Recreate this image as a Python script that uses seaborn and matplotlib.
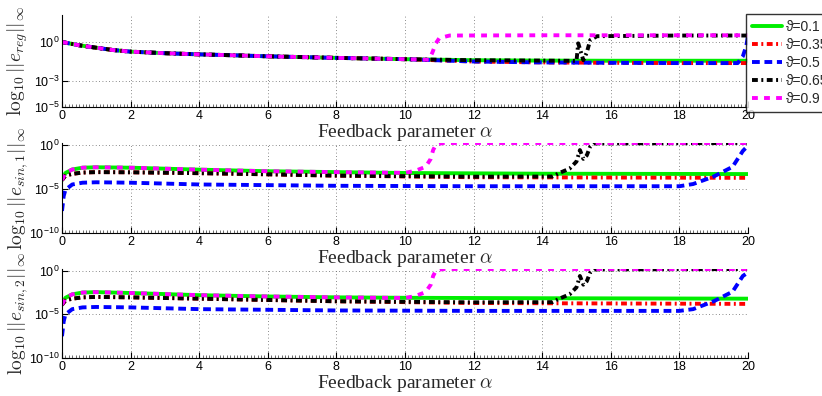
import matplotlib
matplotlib.use("Agg")
import matplotlib.pyplot as plt
from matplotlib.ticker import LogLocator, MultipleLocator, NullFormatter
import seaborn as sns
import numpy as np

# legend labels / styles
thetas = ["ϑ=0.1", "ϑ=0.35", "ϑ=0.5", "ϑ=0.65", "ϑ=0.9"]
colors = ["#00ee00", "#ff0000", "#0000ff", "#000000", "#ff00ff"]
styles = ["-", (0, (1.5, 0.9, 0.5, 0.9)), (0, (2, 1.2)), (0, (1.5, 0.9, 0.5, 0.9)), (0, (1.5, 1.6))]

# ---- panel 1: log10 ||e_reg||_inf ----
reg_x = {
    "ϑ=0.1": [0, 0.5, 1, 1.5, 2, 3, 4, 5, 6, 8, 10, 12, 14, 16, 18, 20],
    "ϑ=0.35": [0, 0.5, 1, 1.5, 2, 3, 4, 5, 6, 8, 10, 12, 14, 16, 18, 20],
    "ϑ=0.5": [0, 0.5, 1, 1.5, 2, 3, 4, 5, 6, 8, 10, 12, 14, 16, 18, 19.7, 19.85, 19.95, 20],
    "ϑ=0.65": [0, 0.5, 1, 1.5, 2, 3, 4, 5, 6, 8, 10, 12, 14, 15.0, 15.05, 15.12, 15.2, 15.3, 15.4, 15.6, 18, 20],
    "ϑ=0.9": [0, 0.5, 1, 1.5, 2, 3, 4, 5, 6, 8, 10, 10.7, 10.8, 10.9, 11.0, 11.3, 14, 20],
}
reg_log = {
    "ϑ=0.1": [0, -0.25, -0.44, -0.62, -0.74, -0.86, -0.95, -1.02, -1.1, -1.22, -1.32, -1.4, -1.43, -1.44, -1.44, -1.44],
    "ϑ=0.35": [0, -0.25, -0.44, -0.62, -0.74, -0.86, -0.95, -1.02, -1.1, -1.22, -1.32, -1.5, -1.57, -1.6, -1.62, -1.62],
    "ϑ=0.5": [0, -0.25, -0.44, -0.62, -0.74, -0.86, -0.95, -1.02, -1.1, -1.22, -1.32, -1.5, -1.57, -1.6, -1.62, -1.62, -1.1, -0.3, 0.45],
    "ϑ=0.65": [0, -0.25, -0.44, -0.62, -0.74, -0.86, -0.95, -1.02, -1.1, -1.22, -1.32, -1.4, -1.43, -1.45, -0.1, -0.7, -1.4, -0.8, 0.15, 0.45, 0.5, 0.5],
    "ϑ=0.9": [0, -0.25, -0.44, -0.62, -0.74, -0.86, -0.95, -1.02, -1.1, -1.22, -1.32, -1.36, -0.8, -0.1, 0.3, 0.5, 0.52, 0.52],
}

# ---- panel 2: log10 ||e_sin,1||_inf ----
sin1_x = {
    "ϑ=0.1": [0, 0.1, 0.3, 0.6, 1, 2, 4, 6, 8, 10, 14, 20],
    "ϑ=0.35": [0, 0.1, 0.3, 0.6, 1, 2, 4, 6, 8, 12, 20],
    "ϑ=0.5": [0, 0.05, 0.1, 0.3, 0.6, 1, 2, 4, 8, 12, 18, 18.4, 19.0, 19.55, 19.85, 20],
    "ϑ=0.65": [0, 0.1, 0.3, 0.6, 1, 2, 4, 6, 8, 12, 14.3, 14.5, 14.8, 15.0, 15.1, 15.2, 15.3, 15.4, 15.5, 20],
    "ϑ=0.9": [0, 0.1, 0.3, 0.6, 1, 2, 4, 6, 8, 10, 10.3, 10.6, 10.75, 10.82, 10.9, 11.1, 20],
}
sin1_log = {
    "ϑ=0.1": [-4.0, -3.2, -2.8, -2.6, -2.55, -2.6, -2.82, -3.0, -3.1, -3.2, -3.28, -3.32],
    "ϑ=0.35": [-4.0, -3.5, -3.3, -3.15, -3.1, -3.12, -3.22, -3.35, -3.5, -3.68, -3.75],
    "ϑ=0.5": [-7.5, -5.8, -5.1, -4.5, -4.3, -4.25, -4.3, -4.5, -4.65, -4.7, -4.7, -4.45, -3.6, -2.5, -0.7, -0.1],
    "ϑ=0.65": [-4.0, -3.5, -3.3, -3.15, -3.1, -3.12, -3.22, -3.35, -3.5, -3.62, -3.6, -3.2, -2.7, -1.9, -0.6, -1.6, -1.2, -0.2, 0.15, 0.2],
    "ϑ=0.9": [-4.0, -3.2, -2.8, -2.6, -2.55, -2.6, -2.82, -3.0, -3.1, -3.18, -2.95, -2.5, -1.6, -0.6, 0.0, 0.2, 0.2],
}

# ---- panel 3: log10 ||e_sin,2||_inf ----
sin2_x = {
    "ϑ=0.1": [0, 0.1, 0.3, 0.6, 1, 2, 4, 6, 8, 10, 14, 20],
    "ϑ=0.35": [0, 0.1, 0.3, 0.6, 1, 2, 4, 6, 8, 12, 20],
    "ϑ=0.5": [0, 0.05, 0.1, 0.3, 0.6, 1, 2, 4, 8, 12, 18, 18.4, 19.0, 19.55, 19.85, 20],
    "ϑ=0.65": [0, 0.1, 0.3, 0.6, 1, 2, 4, 6, 8, 12, 14.3, 14.5, 14.8, 15.0, 15.1, 15.2, 15.3, 15.4, 15.5, 20],
    "ϑ=0.9": [0, 0.1, 0.3, 0.6, 1, 2, 4, 6, 8, 10, 10.3, 10.6, 10.75, 10.82, 10.9, 11.1, 20],
}
sin2_log = {
    "ϑ=0.1": [-3.9, -3.1, -2.7, -2.5, -2.45, -2.55, -2.8, -2.95, -3.05, -3.1, -3.15, -3.2],
    "ϑ=0.35": [-3.9, -3.4, -3.2, -3.05, -3.0, -3.05, -3.2, -3.35, -3.5, -3.7, -3.8],
    "ϑ=0.5": [-7.5, -5.8, -5.0, -4.4, -4.2, -4.15, -4.2, -4.4, -4.55, -4.6, -4.6, -4.4, -3.5, -2.4, -0.6, -0.2],
    "ϑ=0.65": [-3.9, -3.4, -3.2, -3.05, -3.0, -3.05, -3.2, -3.35, -3.5, -3.62, -3.6, -3.2, -2.7, -1.9, -0.6, -1.6, -1.2, -0.2, 0.15, 0.2],
    "ϑ=0.9": [-3.9, -3.1, -2.7, -2.5, -2.45, -2.55, -2.8, -2.95, -3.05, -3.12, -2.9, -2.45, -1.6, -0.6, 0.0, 0.2, 0.2],
}

sns.set_style("white")
plt.rcParams["font.family"] = ["Liberation Sans", "DejaVu Sans"]
plt.rcParams["mathtext.fontset"] = "cm"

fig = plt.figure(figsize=(8.22, 3.96), dpi=100)
W, H = 822, 396
def box(top, bottom):
    return [62 / W, 1 - bottom / H, (748 - 62) / W, (bottom - top) / H]

ax1 = fig.add_axes(box(15, 107))
ax2 = fig.add_axes(box(143, 233))
ax3 = fig.add_axes(box(269, 358))

panels = [
    (ax1, reg_x, reg_log, r"$\log_{10}||e_{reg}||_\infty$", (1e-5, 10 ** 2.08), [-5, -3, 0]),
    (ax2, sin1_x, sin1_log, r"$\log_{10}||e_{sin,1}||_\infty$", (1e-10, 10 ** 0.2), [-10, -5, 0]),
    (ax3, sin2_x, sin2_log, r"$\log_{10}||e_{sin,2}||_\infty$", (1e-10, 10 ** 0.2), [-10, -5, 0]),
]

for ax, xs, ys, ylab, ylim, yt in panels:
    for name, c, ls in zip(thetas, colors, styles):
        sns.lineplot(x=xs[name], y=10.0 ** np.array(ys[name]), ax=ax, color=c,
                     linestyle=ls, lw=2.8, label=name)
    if ax.get_legend() is not None:
        ax.get_legend().remove()
    ax.set_yscale("log")
    ax.set_xlim(0, 20)
    ax.set_ylim(*ylim)
    ax.set_xticks(range(0, 21, 2))
    ax.set_yticks([10.0 ** e for e in yt])
    ax.set_yticklabels([r"$\mathregular{10^{%d}}$" % e for e in yt])
    ax.xaxis.set_minor_locator(MultipleLocator(0.1))
    ax.yaxis.set_minor_locator(LogLocator(base=10, subs=np.arange(2, 10)))
    ax.yaxis.set_minor_formatter(NullFormatter())
    ax.tick_params(which="major", direction="in", length=4, width=0.8, labelsize=9, pad=2, colors="black")
    ax.tick_params(which="minor", direction="in", length=2, width=0.5, colors="#333333")
    ax.tick_params(axis="both", which="both", left=True, bottom=True)
    ax.grid(True, which="major", linestyle=(0, (1, 3)), color="#666666", lw=0.6)
    for s in ["top", "right"]:
        ax.spines[s].set_visible(False)
    for s in ["left", "bottom"]:
        ax.spines[s].set_color("black")
        ax.spines[s].set_linewidth(0.8)
    ax.set_xlabel(r"Feedback parameter $\alpha$", fontfamily="Liberation Serif", fontsize=14, labelpad=0)
    ax.set_ylabel(ylab, fontsize=14)
    ax.yaxis.set_label_coords(-0.047, 0.5)

handles, labels = ax1.get_legend_handles_labels()
fig.legend(handles, labels, loc="upper left", bbox_to_anchor=(746 / W, 1 - 14 / H),
           fontsize=10, frameon=True, fancybox=False, edgecolor="black",
           labelspacing=0.3, handlelength=2.2, handletextpad=0.3, borderpad=0.4,
           borderaxespad=0)

fig.savefig("out.png", dpi=100)
